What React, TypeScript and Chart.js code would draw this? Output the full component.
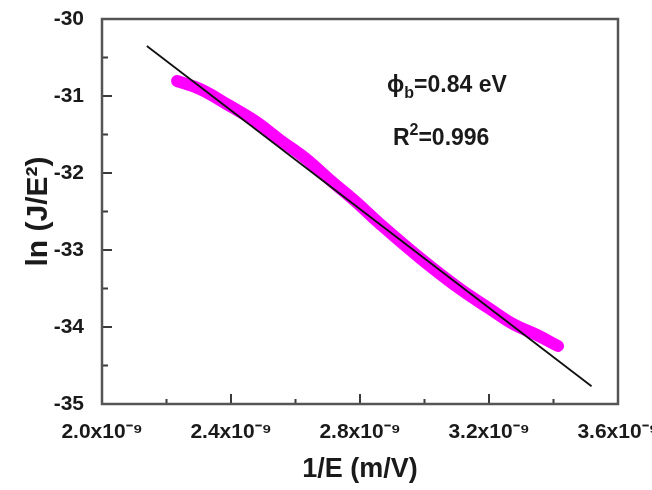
import React, { useEffect, useRef } from "react";
import { Chart, registerables } from "chart.js";

Chart.register(...registerables);

// Measured data (1/E in m/V, ln(J/E^2))
const dataX = [
  2.2326e-9, 2.3039e-9, 2.3969e-9, 2.4744e-9, 2.5519e-9, 2.6295e-9, 2.707e-9,
  2.7845e-9, 2.862e-9, 2.986e-9, 3.1101e-9, 3.2031e-9, 3.2744e-9, 3.3488e-9, 3.414e-9,
];
const dataY = [
  -30.805, -30.909, -31.13, -31.325, -31.571, -31.805, -32.091, -32.364, -32.662,
  -33.104, -33.506, -33.766, -33.961, -34.104, -34.247,
];

// Linear fit
const fitX = [2.139e-9, 3.518e-9];
const fitY = [-30.35, -34.77];

// Axis ticks
const xMajor = [2.0e-9, 2.4e-9, 2.8e-9, 3.2e-9, 3.6e-9];
const xMinor = [2.2e-9, 2.6e-9, 3.0e-9, 3.4e-9];
const xLabels = ["2.0x10⁻⁹", "2.4x10⁻⁹", "2.8x10⁻⁹", "3.2x10⁻⁹", "3.6x10⁻⁹"];
const yMajor = [-35, -34, -33, -32, -31, -30];
const yMinor = [-34.5, -33.5, -32.5, -31.5, -30.5];
const yLabels = ["-35", "-34", "-33", "-32", "-31", "-30"];

const xTitle = "1/E (m/V)";
const yTitle = "ln (J/E²)";

// Annotation text (anchor in data coordinates)
const phiAnchor = { x: 2.884e-9, y: -30.948 };
const r2Anchor = { x: 2.902e-9, y: -31.636 };

const FONT = "'Liberation Sans', Arial, sans-serif";
const TEXT = "#1a1a1a";

const framePlugin = {
  id: "frameTicks",
  afterDraw(chart: any) {
    const { ctx, chartArea: a, scales } = chart;
    const x = scales.x;
    const y = scales.y;
    ctx.save();
    // ticks (inward)
    ctx.strokeStyle = "#3a3a3a";
    ctx.lineWidth = 2;
    ctx.beginPath();
    xMajor.forEach((v) => {
      const px = x.getPixelForValue(v);
      ctx.moveTo(px, a.bottom);
      ctx.lineTo(px, a.bottom - 10);
    });
    xMinor.forEach((v) => {
      const px = x.getPixelForValue(v);
      ctx.moveTo(px, a.bottom);
      ctx.lineTo(px, a.bottom - 5);
    });
    yMajor.forEach((v) => {
      const py = y.getPixelForValue(v);
      ctx.moveTo(a.left, py);
      ctx.lineTo(a.left + 10, py);
    });
    yMinor.forEach((v) => {
      const py = y.getPixelForValue(v);
      ctx.moveTo(a.left, py);
      ctx.lineTo(a.left + 6, py);
    });
    ctx.stroke();
    // frame
    ctx.strokeStyle = "#555";
    ctx.lineWidth = 2.5;
    ctx.strokeRect(a.left, a.top, a.right - a.left, a.bottom - a.top);

    // annotations
    ctx.fillStyle = TEXT;
    ctx.textBaseline = "alphabetic";
    ctx.textAlign = "left";
    const big = `bold 23px ${FONT}`;
    const small = `bold 16px ${FONT}`;
    let px = x.getPixelForValue(phiAnchor.x);
    let py = y.getPixelForValue(phiAnchor.y);
    ctx.font = big;
    ctx.fillText("ϕ", px, py);
    px += ctx.measureText("ϕ").width;
    ctx.font = small;
    ctx.fillText("b", px, py + 6);
    px += ctx.measureText("b").width;
    ctx.font = big;
    ctx.fillText("=0.84 eV", px, py);

    px = x.getPixelForValue(r2Anchor.x);
    py = y.getPixelForValue(r2Anchor.y);
    ctx.font = big;
    ctx.fillText("R", px, py);
    px += ctx.measureText("R").width;
    ctx.font = small;
    ctx.fillText("2", px, py - 10);
    px += ctx.measureText("2").width;
    ctx.font = big;
    ctx.fillText("=0.996", px, py);
    ctx.restore();
  },
};

export default function App() {
  const ref = useRef<HTMLCanvasElement | null>(null);

  useEffect(() => {
    if (!ref.current) return;
    const chart = new Chart(ref.current, {
      type: "scatter",
      data: {
        datasets: [
          {
            label: "fit",
            data: fitX.map((v, i) => ({ x: v, y: fitY[i] })),
            showLine: true,
            borderColor: "#111",
            borderWidth: 1.8,
            pointRadius: 0,
          },
          {
            label: "data",
            data: dataX.map((v, i) => ({ x: v, y: dataY[i] })),
            showLine: true,
            borderColor: "#ff00ff",
            borderWidth: 12,
            borderCapStyle: "round",
            borderJoinStyle: "round",
            tension: 0.4,
            pointRadius: 0,
          },
        ],
      },
      options: {
        animation: false,
        responsive: false,
        devicePixelRatio: 1,
        layout: { padding: { top: 19, right: 34, left: 0, bottom: 0 } },
        plugins: { legend: { display: false }, tooltip: { enabled: false } },
        scales: {
          x: {
            type: "linear",
            min: 2.0e-9,
            max: 3.6e-9,
            afterBuildTicks: (s: any) => {
              s.ticks = xMajor.map((v) => ({ value: v }));
            },
            afterFit: (s: any) => {
              s.height = 86;
              s.paddingLeft = 0;
              s.paddingRight = 0;
            },
            ticks: {
              autoSkip: false,
              maxRotation: 0,
              padding: 8,
              color: TEXT,
              font: { family: FONT, size: 21, weight: "bold" },
              callback: (_v: any, i: number) => xLabels[i],
            },
            grid: { display: false },
            border: { display: false },
            title: {
              display: true,
              text: xTitle,
              color: TEXT,
              font: { family: FONT, size: 27, weight: "bold" },
              padding: { top: 0, bottom: 4 },
            },
          },
          y: {
            type: "linear",
            min: -35,
            max: -30,
            afterBuildTicks: (s: any) => {
              s.ticks = yMajor.map((v) => ({ value: v }));
            },
            afterFit: (s: any) => {
              s.width = 102;
              s.paddingTop = 0;
              s.paddingBottom = 0;
            },
            ticks: {
              autoSkip: false,
              padding: 10,
              color: TEXT,
              font: { family: FONT, size: 21, weight: "bold" },
              callback: (_v: any, i: number) => yLabels[i],
            },
            grid: { display: false },
            border: { display: false },
            title: {
              display: true,
              text: yTitle,
              color: TEXT,
              font: { family: FONT, size: 30, weight: "bold" },
              padding: { top: 21, bottom: 0 },
            },
          },
        },
      },
      plugins: [framePlugin],
    } as any);
    return () => chart.destroy();
  }, []);

  return (
    <div style={{ position: "absolute", left: 0, top: 0, width: 652, height: 490 }}>
      <canvas ref={ref} width={652} height={490} style={{ display: "block" }} />
    </div>
  );
}
